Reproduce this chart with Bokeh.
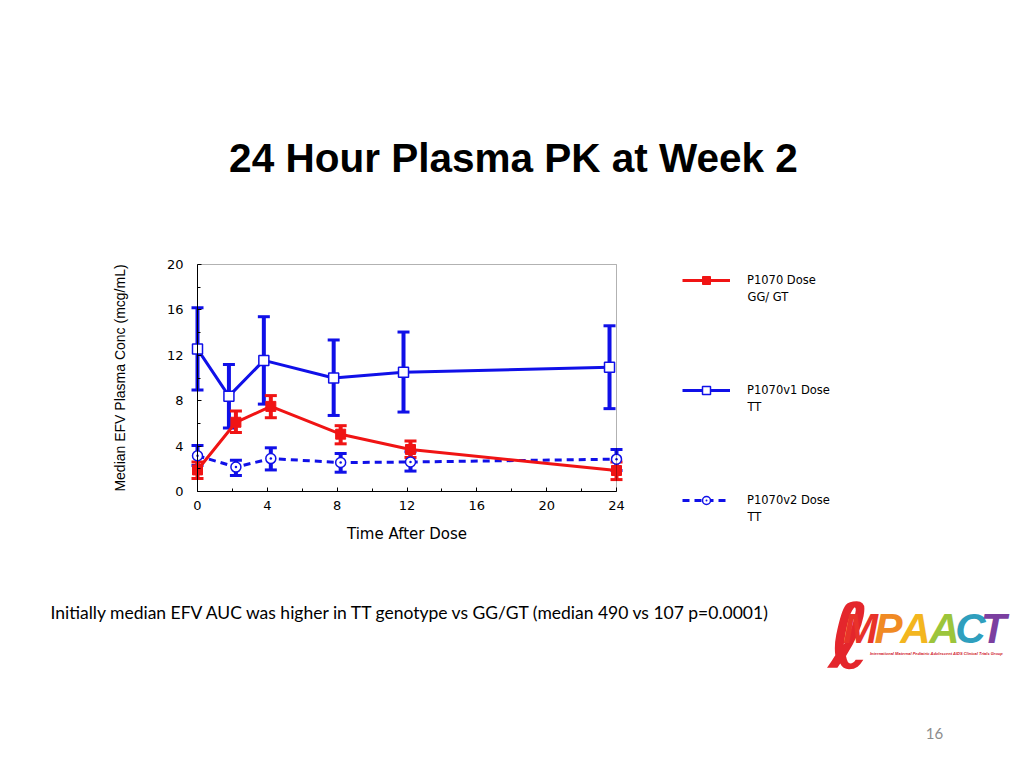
from bokeh.plotting import figure
from bokeh.models import (ColumnDataSource, Whisker, TeeHead, Label, Legend, LegendItem,
                          FixedTicker, BoxAnnotation, Range1d, LinearAxis)
from bokeh.embed import file_html
from bokeh.resources import INLINE

# ---------------- data ----------------
title_text = "24 Hour Plasma PK at Week 2"
x_label = "Time After Dose"
y_label = "Median EFV Plasma Conc (mcg/mL)"
x_ticks = [0, 4, 8, 12, 16, 20, 24]
x_minor = [2, 6, 10, 14, 18, 22]
y_ticks = [0, 4, 8, 12, 16, 20]
y_minor = [2, 6, 10, 14, 18]
x_lim = (0, 24)
y_lim = (0, 20)

red_name = "P1070 Dose"
red_name2 = "GG/ GT"
red_x = [0, 2.2, 4.2, 8.2, 12.2, 24]
red_y = [1.9, 6.1, 7.5, 5.05, 3.7, 1.85]
red_lo = [1.15, 5.2, 6.5, 4.2, 3.0, 1.05]
red_hi = [2.6, 7.1, 8.45, 5.8, 4.45, 2.6]

v1_name = "P1070v1 Dose"
v1_name2 = "TT"
v1_x = [0, 1.8, 3.8, 7.8, 11.8, 23.6]
v1_y = [12.55, 8.4, 11.55, 10.0, 10.5, 10.95]
v1_lo = [8.95, 5.6, 7.7, 6.7, 7.0, 7.3]
v1_hi = [16.2, 11.2, 15.4, 13.35, 14.05, 14.6]

v2_name = "P1070v2 Dose"
v2_name2 = "TT"
v2_x = [0, 2.2, 4.2, 8.2, 12.2, 24]
v2_y = [3.15, 2.15, 2.9, 2.55, 2.6, 2.85]
v2_lo = [2.3, 1.4, 1.9, 1.7, 1.8, 1.85]
v2_hi = [4.05, 2.75, 3.85, 3.35, 3.5, 3.7]

note_text = "Initially median EFV AUC was higher in TT genotype vs GG/GT (median 490 vs 107 p=0.0001)"
page_no = "16"
logo_letters = ["M", "P", "A", "A", "C", "T"]
logo_colors = ["#e8332a", "#f08a24", "#f3b61f", "#9cc53b", "#2f9fbe", "#7b3fa0"]
logo_sub = "International Maternal Pediatric Adolescent AIDS Clinical Trials Group"

RED = "#f01414"
BLUE = "#1010e8"
CHART_FONT = "DejaVu Sans"

# ---------------- layout (page pixels) ----------------
W, H = 1024, 768
AX_L, AX_R = 197, 616   # page x of x=0 and x=24
AX_B, AX_T = 491, 264   # page y of y=0 and y=20

kx = (AX_R - AX_L) / (x_lim[1] - x_lim[0])
ky = (AX_B - AX_T) / (y_lim[1] - y_lim[0])
xr = Range1d(x_lim[0] - AX_L / kx, x_lim[1] + (W - AX_R) / kx)
yr = Range1d(y_lim[0] - (H - AX_B) / ky, y_lim[1] + AX_T / ky)

p = figure(width=W, height=H, min_border=0, x_range=xr, y_range=yr,
           x_axis_location=None, y_axis_location=None, title=None,
           output_backend="svg", toolbar_location=None,
           background_fill_color="white", border_fill_color="white")
p.outline_line_color = None
p.grid.visible = False

xaxis = LinearAxis(ticker=FixedTicker(ticks=x_ticks, minor_ticks=x_minor),
                   fixed_location=y_lim[0], bounds=x_lim, axis_label=x_label)
yaxis = LinearAxis(ticker=FixedTicker(ticks=y_ticks, minor_ticks=y_minor),
                   fixed_location=x_lim[0], bounds=y_lim, axis_label=y_label)
for ax in (xaxis, yaxis):
    ax.axis_line_color = "black"
    ax.axis_line_width = 1
    ax.major_tick_in = 4
    ax.major_tick_out = 0
    ax.minor_tick_in = 3
    ax.minor_tick_out = 0
    ax.major_tick_line_color = "black"
    ax.minor_tick_line_color = "black"
    ax.major_label_text_font = CHART_FONT
    ax.major_label_text_font_size = "13px"
    ax.major_label_text_color = "black"
    ax.axis_label_text_font_style = "normal"
    ax.axis_label_text_color = "black"
xaxis.major_label_standoff = 9
yaxis.major_label_standoff = 14
xaxis.axis_label_text_font = CHART_FONT
xaxis.axis_label_text_font_size = "15px"
xaxis.axis_label_standoff = 12
yaxis.axis_label_text_font = "Liberation Sans Narrow, Liberation Sans"
yaxis.axis_label_text_font_size = "14px"
yaxis.axis_label_standoff = 36
p.add_layout(xaxis, "below")
p.add_layout(yaxis, "left")

p.add_layout(BoxAnnotation(left=x_lim[0], right=x_lim[1], bottom=y_lim[0], top=y_lim[1],
                           fill_alpha=0, line_color="black", line_width=1))

src_v1 = ColumnDataSource(dict(x=v1_x, y=v1_y, lo=v1_lo, hi=v1_hi))
src_v2 = ColumnDataSource(dict(x=v2_x, y=v2_y, lo=v2_lo, hi=v2_hi))
src_red = ColumnDataSource(dict(x=red_x, y=red_y, lo=red_lo, hi=red_hi))


def whisk(src, color):
    w = Whisker(base="x", lower="lo", upper="hi", source=src, dimension="height",
                line_color=color, line_width=4,
                upper_head=TeeHead(size=12, line_color=color, line_width=3),
                lower_head=TeeHead(size=12, line_color=color, line_width=3))
    p.add_layout(w)


whisk(src_v1, BLUE)
l_v1 = p.line("x", "y", source=src_v1, line_color=BLUE, line_width=3)
s_v1 = p.scatter("x", "y", source=src_v1, marker="square", size=10,
                 fill_color="white", line_color=BLUE, line_width=1.5)

whisk(src_v2, BLUE)
l_v2 = p.line("x", "y", source=src_v2, line_color=BLUE, line_width=3, line_dash="7 5")
s_v2 = p.scatter("x", "y", source=src_v2, marker="circle_dot", size=10,
                 fill_color="white", line_color=BLUE, line_width=1.5)

whisk(src_red, RED)
l_red = p.line("x", "y", source=src_red, line_color=RED, line_width=3)
s_red = p.scatter("x", "y", source=src_red, marker="square", size=10,
                  fill_color=RED, line_color=RED)


def sx(px):
    return px


def sy(py):
    return H - py


# legend (location = bottom-left corner, screen units from frame bottom-left)
legend = Legend(items=[LegendItem(label=red_name, renderers=[l_red, s_red]),
                       LegendItem(label=v1_name, renderers=[l_v1, s_v1]),
                       LegendItem(label=v2_name, renderers=[l_v2, s_v2])],
                location=(sx(682), sy(510)),
                padding=0, margin=0, border_line_color=None, background_fill_alpha=0,
                glyph_width=48, glyph_height=20, label_height=20, spacing=90,
                label_standoff=17, label_text_font=CHART_FONT,
                label_text_font_size="11.5px", label_text_color="black")
p.add_layout(legend)

for txt, py in [(red_name2, 296), (v1_name2, 406), (v2_name2, 516)]:
    p.add_layout(Label(x=sx(747), y=sy(py), x_units="screen", y_units="screen",
                       text=txt, text_font=CHART_FONT, text_font_size="11.5px",
                       text_baseline="middle", text_align="left", text_color="black"))

# title
p.add_layout(Label(x=sx(513), y=sy(157), x_units="screen", y_units="screen",
                   text=title_text, text_font="Liberation Sans", text_font_style="bold",
                   text_font_size="40.5px", text_align="center", text_baseline="middle",
                   text_color="black"))

# note
p.add_layout(Label(x=sx(50), y=sy(612), x_units="screen", y_units="screen",
                   text=note_text, text_font="Lato", text_font_size="17.5px",
                   text_align="left", text_baseline="middle", text_color="black"))

# page number
p.add_layout(Label(x=sx(934), y=sy(733), x_units="screen", y_units="screen",
                   text=page_no, text_font="Lato", text_font_size="15px",
                   text_align="center", text_baseline="middle", text_color="#8c8c8c"))

# logo
p.add_layout(Label(x=sx(849), y=sy(636), x_units="screen", y_units="screen",
                   text="\u2113", text_font="DejaVu Sans", text_font_style="bold",
                   text_font_size="90px", text_align="center", text_baseline="middle",
                   text_color="#e4262c"))
logo_cx = [860, 888, 915, 944, 970, 993]
for ch, col, cx in zip(logo_letters, logo_colors, logo_cx):
    p.add_layout(Label(x=sx(cx), y=sy(628), x_units="screen", y_units="screen",
                       text=ch, text_font="Liberation Sans", text_font_style="bold italic",
                       text_font_size="42px", text_align="center", text_baseline="middle",
                       text_color=col))
p.add_layout(Label(x=sx(936), y=sy(653), x_units="screen", y_units="screen",
                   text=logo_sub, text_font="Liberation Sans", text_font_style="bold italic",
                   text_font_size="4px", text_align="center", text_baseline="middle",
                   text_color="#d0202a"))

open("out.html", "w").write(file_html(p, INLINE))
